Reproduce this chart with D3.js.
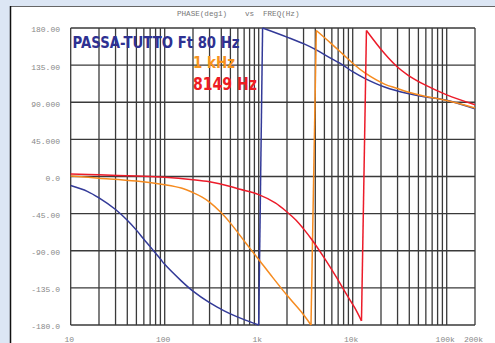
<!DOCTYPE html>
<html>
<head>
<meta charset="utf-8">
<script src="https://cdn.jsdelivr.net/npm/d3@7"></script>
<style>
  html, body { margin: 0; padding: 0; background: #dce6f4; }
  svg { display: block; }
</style>
</head>
<body>
<script>
// chart values
var blueFreq   = [10, 15, 20, 30, 40, 50, 60, 70, 80, 90, 100, 150, 200, 300, 400, 500, 700, 1000,
                  1100, 2000, 3000, 4000, 5500, 7900, 10000, 13400, 21800, 38600, 60000, 100000, 200000];
var bluePhase  = [-11, -18, -26, -40, -53, -65, -76, -85, -93, -100, -106.5, -126.5, -139, -153, -161, -166.5, -173.5, -180,
                  180, 169, 161, 154, 145, 135, 127, 119, 108.5, 100.5, 96.5, 92.5, 82];

var orangeFreq  = [10, 20, 50, 100, 150, 200, 250, 300, 400, 500, 600, 700, 800, 1000, 1400, 2000, 3000, 3600,
                   4100, 5800, 7900, 10300, 13500, 21800, 29400, 38600, 60000, 100000, 200000];
var orangePhase = [0.5, -2, -5.5, -10, -14, -19.5, -25, -31, -44, -56.5, -68, -78, -86.5, -100.5, -122, -144, -167.5, -180,
                   177, 162, 148, 136, 125.5, 112, 107, 102.5, 97, 92, 83];

var redFreq  = [10, 20, 50, 100, 200, 300, 500, 635, 1000, 1500, 2000, 2500, 3000, 3700, 5000, 6700, 8600, 10500, 12400,
                14000, 21800, 29700, 38600, 58800, 100000, 200000];
var redPhase = [3, 2, 0.5, -1, -4, -6.5, -12, -15.5, -22, -32, -43, -53, -63.5, -77, -99, -122, -143, -159, -175,
                177, 149, 133, 123, 111, 99, 87];

var yTicks  = [180, 135, 90, 45, 0, -45, -90, -135, -180];
var yLabels = ["180.00", "135.00", "90.000", "45.000", "0.0", "-45.00", "-90.00", "-135.0", "-180.0"];
var xTicks  = [10, 100, 1000, 10000, 100000, 200000];
var xLabels = ["10", "100", "1k", "10k", "100k", "200k"];

var legendTexts = ["PASSA-TUTTO Ft 80 Hz", "1 kHz", "8149 Hz"];

var width = 495, height = 343;
var plot = {left: 70.7, right: 475, top: 28, bottom: 325};

var xScale = d3.scaleLog().domain([10, 200000]).range([plot.left, plot.right]);
var yScale = d3.scaleLinear().domain([-180, 180]).range([plot.bottom, plot.top]);

var svg = d3.select("body").append("svg")
    .attr("width", width)
    .attr("height", height);

// white panel with border
svg.append("rect")
    .attr("x", 10).attr("y", 7)
    .attr("width", width).attr("height", height)
    .attr("fill", "#fff");
svg.append("line")
    .attr("x1", 10).attr("x2", width).attr("y1", 6.5).attr("y2", 6.5)
    .attr("stroke", "#666").attr("stroke-width", 1);
svg.append("line")
    .attr("x1", 10.5).attr("x2", 10.5).attr("y1", 6).attr("y2", height)
    .attr("stroke", "#111").attr("stroke-width", 1.5);

// title
var monoFont = "'Liberation Mono', 'DejaVu Sans Mono', monospace";
svg.append("text").attr("x", 177).attr("y", 16).text("PHASE(deg1)")
    .attr("font-family", monoFont).attr("font-size", "7.6px").attr("fill", "#777");
svg.append("text").attr("x", 245).attr("y", 16).text("vs")
    .attr("font-family", monoFont).attr("font-size", "7.6px").attr("fill", "#777");
svg.append("text").attr("x", 263).attr("y", 16).text("FREQ(Hz)")
    .attr("font-family", monoFont).attr("font-size", "7.6px").attr("fill", "#777");

// grid
var grid = svg.append("g").attr("class", "grid");
grid.selectAll("line.v")
    .data(xScale.ticks())
    .enter().append("line")
    .attr("class", "v")
    .attr("x1", function(d) { return xScale(d); })
    .attr("x2", function(d) { return xScale(d); })
    .attr("y1", plot.top).attr("y2", plot.bottom)
    .attr("stroke", "#3a3a3a").attr("stroke-width", 1.3);
grid.selectAll("line.h")
    .data(yTicks)
    .enter().append("line")
    .attr("class", "h")
    .attr("x1", plot.left).attr("x2", plot.right)
    .attr("y1", function(d) { return yScale(d); })
    .attr("y2", function(d) { return yScale(d); })
    .attr("stroke", "#3a3a3a").attr("stroke-width", 1.3);

// tick labels
svg.selectAll("text.ylab")
    .data(yTicks)
    .enter().append("text")
    .attr("class", "ylab")
    .attr("x", 60)
    .attr("y", function(d) { return yScale(d) + 4.4; })
    .attr("text-anchor", "end")
    .text(function(d, i) { return yLabels[i]; })
    .attr("font-family", monoFont).attr("font-size", "8px").attr("fill", "#888");
svg.selectAll("text.xlab")
    .data(xTicks)
    .enter().append("text")
    .attr("class", "xlab")
    .attr("x", function(d) { return xScale(d) - 1.5; })
    .attr("y", 341.5)
    .attr("text-anchor", "middle")
    .text(function(d, i) { return xLabels[i]; })
    .attr("font-family", monoFont).attr("font-size", "8px").attr("fill", "#888");

// curves: split where the phase wraps, draw wrap as straight line
var line = d3.line()
    .x(function(d) { return xScale(d[0]); })
    .y(function(d) { return yScale(d[1]); })
    .curve(d3.curveCatmullRom.alpha(0.5));

function drawPhase(freq, phase, color) {
    var pts = freq.map(function(f, i) { return [f, phase[i]]; });
    var segs = [[pts[0]]];
    var jumps = [];
    for (var i = 1; i < pts.length; i++) {
        if (Math.abs(pts[i][1] - pts[i - 1][1]) > 180) {
            jumps.push([pts[i - 1], pts[i]]);
            segs.push([]);
        }
        segs[segs.length - 1].push(pts[i]);
    }
    var g = svg.append("g");
    g.selectAll("path.seg")
        .data(segs.concat(jumps))
        .enter().append("path")
        .attr("class", "seg")
        .attr("d", function(d) { return line(d); })
        .attr("fill", "none")
        .attr("stroke", color)
        .attr("stroke-width", 1.5);
}

drawPhase(blueFreq, bluePhase, "#333a98");
drawPhase(orangeFreq, orangePhase, "#f68b1f");
drawPhase(redFreq, redPhase, "#ec1c2a");

// legend text
var legendFont = "'DejaVu Sans', 'Noto Sans', sans-serif";
svg.append("text").attr("x", 72.5).attr("y", 48.3).text(legendTexts[0])
    .attr("textLength", 167).attr("lengthAdjust", "spacingAndGlyphs")
    .attr("font-family", legendFont).attr("font-weight", "bold")
    .attr("font-size", "16px").attr("fill", "#2e3192");
svg.append("text").attr("x", 193).attr("y", 68.3).text(legendTexts[1])
    .attr("textLength", 42).attr("lengthAdjust", "spacingAndGlyphs")
    .attr("font-family", legendFont).attr("font-weight", "bold")
    .attr("font-size", "16px").attr("fill", "#f7941d");
svg.append("text").attr("x", 193).attr("y", 90).text(legendTexts[2])
    .attr("textLength", 64).attr("lengthAdjust", "spacingAndGlyphs")
    .attr("font-family", legendFont).attr("font-weight", "bold")
    .attr("font-size", "17px").attr("fill", "#ed1c24");
</script>
</body>
</html>
